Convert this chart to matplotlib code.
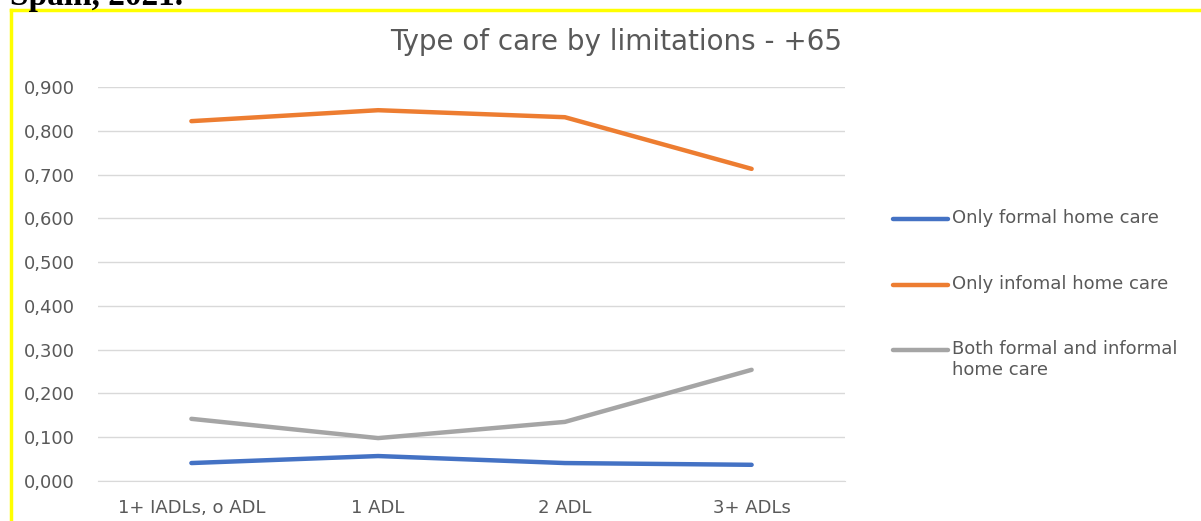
import matplotlib
matplotlib.use("Agg")
import matplotlib.pyplot as plt
from matplotlib.lines import Line2D
from matplotlib.ticker import FuncFormatter

categories = ["1+ IADLs, o ADL", "1 ADL", "2 ADL", "3+ ADLs"]
only_formal = [0.041, 0.057, 0.041, 0.037]
only_informal = [0.822, 0.847, 0.831, 0.713]
both = [0.142, 0.098, 0.135, 0.254]
series_names = ["Only formal home care", "Only infomal home care",
                "Both formal and informal\nhome care"]
colors = ["#4472C4", "#ED7D31", "#A5A5A5"]
yticks = [0.0, 0.1, 0.2, 0.3, 0.4, 0.5, 0.6, 0.7, 0.8, 0.9]

W, H = 1201, 521
fig = plt.figure(figsize=(W / 100, H / 100), dpi=100)
fig.patch.set_facecolor("white")

# axes placement in pixels
x0, x1, ytop, ybot = 98, 845, 87, 481
ax = fig.add_axes([x0 / W, 1 - ybot / H, (x1 - x0) / W, (ybot - ytop) / H])

xs = list(range(len(categories)))
for vals, c in zip([only_formal, only_informal, both], colors):
    ax.plot(xs, vals, color=c, lw=3.2, solid_capstyle="round",
            solid_joinstyle="round", zorder=3)

ax.set_xlim(-0.5, len(categories) - 0.5)
ax.set_ylim(0, 0.9)
ax.set_yticks(yticks)
ax.yaxis.set_major_formatter(FuncFormatter(lambda v, p: f"{v:.3f}".replace(".", ",")))
ax.set_xticks(xs)
ax.set_xticklabels(categories)
ax.grid(axis="y", color="#d9d9d9", lw=1.0)
ax.set_axisbelow(True)
for s in ["top", "right", "left"]:
    ax.spines[s].set_visible(False)
ax.spines["bottom"].set_color("#d9d9d9")
ax.tick_params(axis="both", length=0, colors="#595959", labelsize=13)
ax.tick_params(axis="y", pad=17)
ax.tick_params(axis="x", pad=13)

fig.text(616 / W, 1 - 42 / H, "Type of care by limitations - +65", ha="center",
         va="center", fontsize=20, color="#595959")

# legend
leg_y = [219, 285, 350]
for yy, c, name in zip(leg_y, colors, series_names):
    fig.add_artist(Line2D([893 / W, 948 / W], [1 - yy / H, 1 - yy / H], color=c,
                          lw=3.2, solid_capstyle="round", transform=fig.transFigure))
    fig.text(952 / W, 1 - (yy - 10) / H, name, ha="left", va="top",
             fontsize=13, color="#595959", linespacing=1.2)

# yellow frame
fig.add_artist(Line2D([11 / W, 1.0], [1 - 10 / H, 1 - 10 / H], color="#FFFF00", lw=2.5,
                      transform=fig.transFigure))
fig.add_artist(Line2D([11 / W, 11 / W], [0, 1 - 10 / H], color="#FFFF00", lw=2.5,
                      transform=fig.transFigure))

# cut-off caption above chart
fig.text(10 / W, 1 - 5 / H, "Spain, 2021.", ha="left", va="baseline", fontsize=24,
         fontweight="bold", family="Liberation Serif", color="black")

fig.savefig("out.png", dpi=100, facecolor="white")
